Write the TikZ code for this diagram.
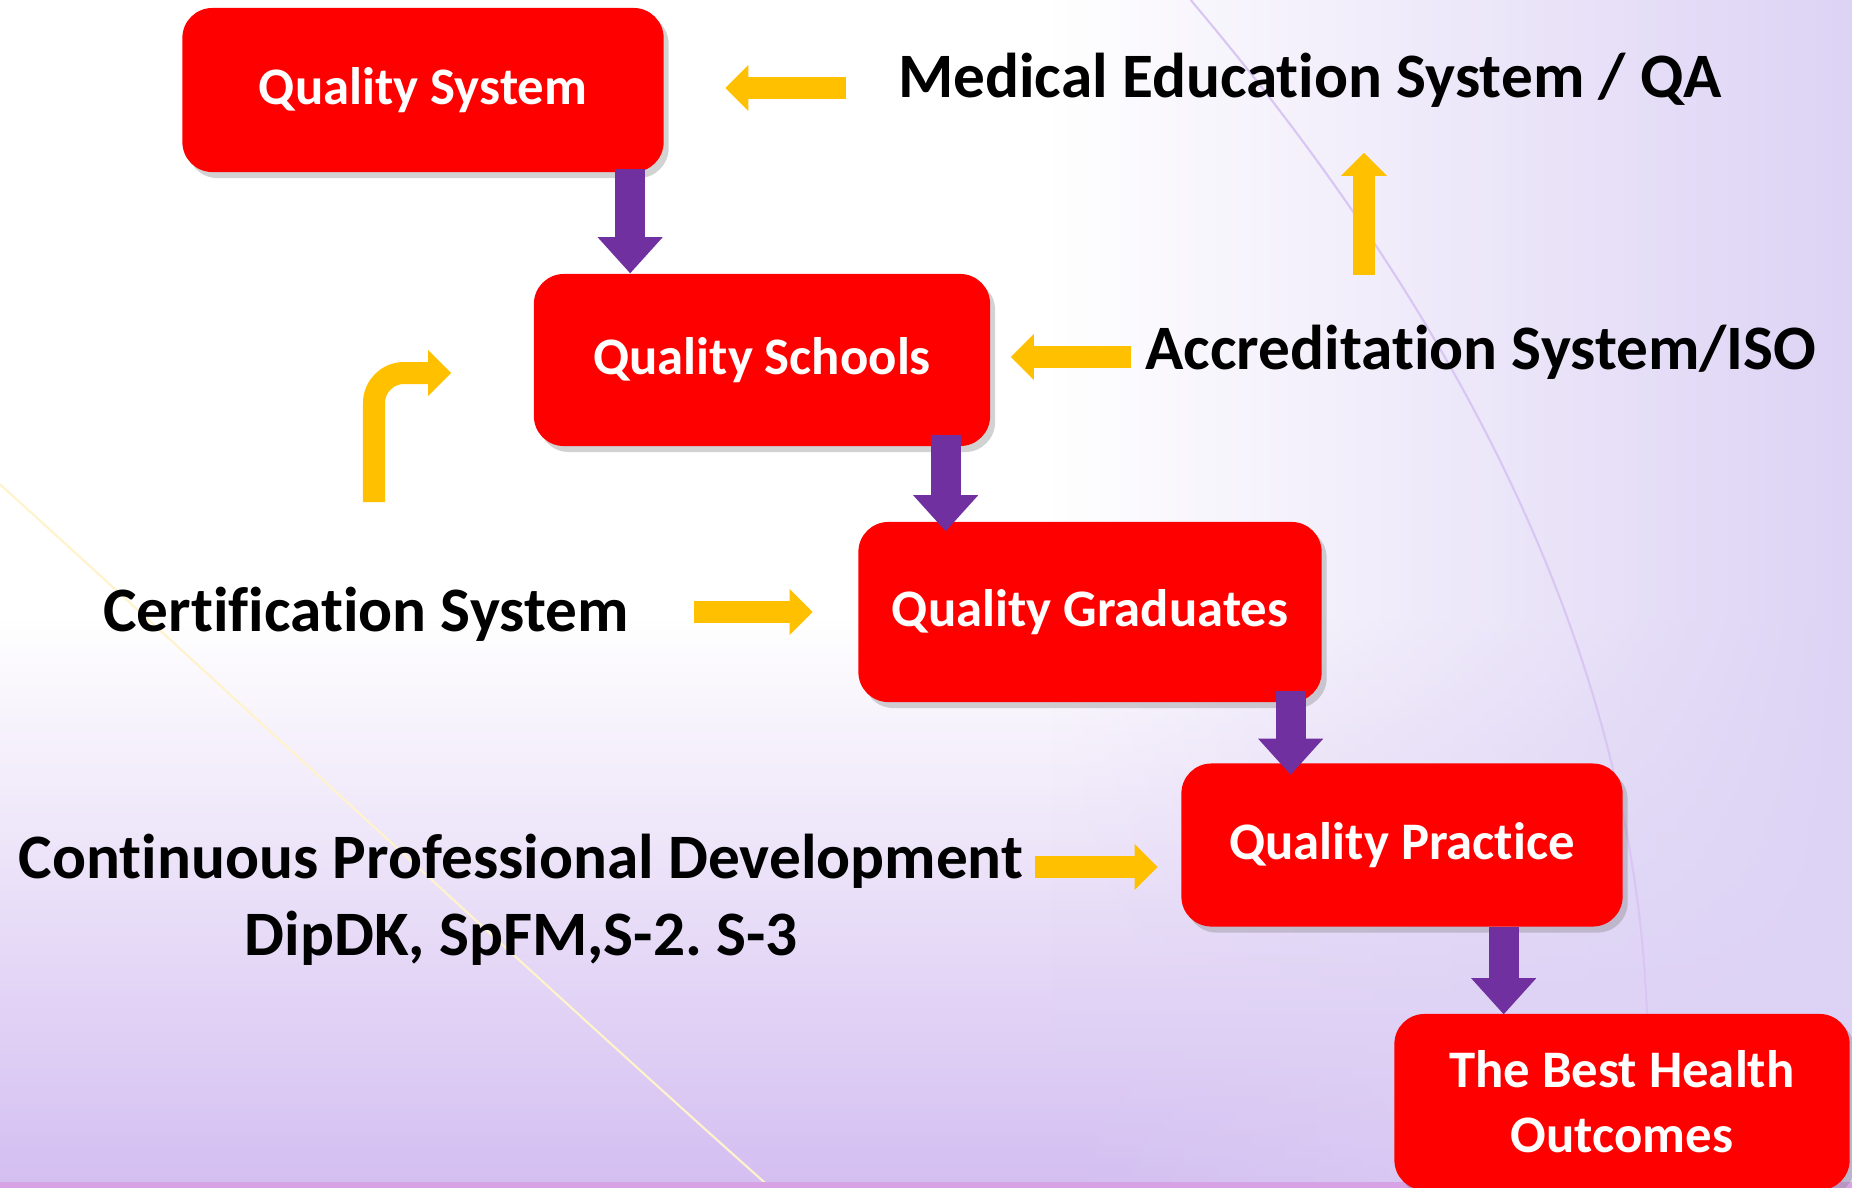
\documentclass[tikz,border=0pt]{standalone}
\usepackage{fontspec}
\setmainfont{Carlito}[Ligatures=NoCommon]
\usetikzlibrary{arrows.meta,shadows,calc,fadings}
\definecolor{boxred}{HTML}{FF0000}
\definecolor{stepviolet}{HTML}{7030A0}
\definecolor{inputgold}{HTML}{FFC000}
\definecolor{bglavender}{HTML}{DDD3F5}
\definecolor{bglilac}{HTML}{C9AEEE}
\definecolor{bgedge}{HTML}{D7A3E4}

\begin{document}
\frenchspacing
\begin{tikzpicture}[x=0.01cm, y=-0.01cm,
    qualitybox/.style={rounded corners=0.3cm, fill=boxred, text=white, align=center,
        font=\fontsize{15}{18.5}\selectfont\bfseries,
        drop shadow={shadow xshift=0.05cm, shadow yshift=-0.06cm, opacity=0.35}},
    systemtext/.style={inner sep=0pt, align=center, font=\fontsize{18}{22}\selectfont\bfseries},
    downarrow/.style={draw=stepviolet, line width=0.3cm,
        -{Triangle[length=0.36cm, width=0.65cm, line width=0pt]}},
    sidearrow/.style={draw=inputgold, line width=0.22cm,
        -{Triangle[length=0.23cm, width=0.46cm, line width=0pt]}}]

\useasboundingbox (0,0) rectangle (1852,1187);
\begin{scope}[x=1cm, y=1cm]
  \fill[white] (0,0) rectangle (18.52,-11.87);
  \fill[bglilac, path fading=north, opacity=0.8] (0,-6.2) rectangle (18.52,-11.87);
  \fill[bglavender, path fading=west] (10.5,0) rectangle (18.52,-11.87);
  \draw[inputgold!20, line width=0.6pt] (0,-4.84) .. controls (2.6,-7.2) and (5.6,-10) .. (7.7,-11.87);
  \draw[bglilac!70, line width=0.6pt] (11.9,0) .. controls (14.6,-3.2) and (16.9,-7.2) .. (16.4,-11.87);
  \fill[bgedge] (0,-11.81) rectangle (18.52,-11.87);
\end{scope}

\node[qualitybox, minimum width=4.81cm, minimum height=1.64cm] (qsys) at (423,90) {Quality System};
\node[qualitybox, minimum width=4.56cm, minimum height=1.72cm] (qsch) at (762,360) {Quality Schools};
\node[qualitybox, minimum width=4.63cm, minimum height=1.80cm] (qgrad) at (1090,612) {Quality Graduates};
\node[qualitybox, minimum width=4.41cm, minimum height=1.63cm] (qprac) at (1402,845) {Quality Practice};
\node[qualitybox, minimum width=4.55cm, minimum height=1.76cm] (best) at (1622,1102) {The Best Health\\Outcomes};

\node[systemtext] (med) at (1310,80) {Medical Education System / QA};
\node[systemtext] (accr) at (1481,352) {Accreditation System/ISO};
\node[systemtext] (cert) at (366,614) {Certification System};
\node[systemtext] (cpd) at (521,900) {Continuous Professional Development\\DipDK, SpFM,S-2. S-3};

\draw[downarrow] ($(qsch.north west |- qsys.south)+(97,-4)$) -- ($(qsch.north west)+(97,0)$);
\draw[downarrow] ($(qgrad.north west |- qsch.south)+(88,-12)$) -- ($(qgrad.north west)+(88,10)$);
\draw[downarrow] ($(qprac.north west |- qgrad.south)+(110,-12)$) -- ($(qprac.north west)+(110,12)$);
\draw[downarrow] ($(best.north west |- qprac.south)+(110,0)$) -- ($(best.north west)+(110,1)$);

\draw[sidearrow] ($(med.west)+(-51,8)$) -- ($(qsys.east |- med.west)+(61,8)$);
\draw[sidearrow] ($(accr.west)+(219,-77)$) -- ($(med.south -| accr.west)+(219,45)$);
\draw[sidearrow] ($(accr.west)+(-14,5)$) -- ($(qsch.east |- accr.west)+(20,5)$);
\draw[sidearrow, rounded corners=0.3cm] ($(cert.north)+(8,-84)$) |- ($(qsch.west)+(-82,13)$);
\draw[sidearrow] ($(cert.east)+(65,-2)$) -- ($(qgrad.west |- cert.east)+(-45,-2)$);
\draw[sidearrow] ($(cpd.east)+(11,-33)$) -- ($(qprac.west |- cpd.east)+(-23,-33)$);
\end{tikzpicture}
\end{document}
